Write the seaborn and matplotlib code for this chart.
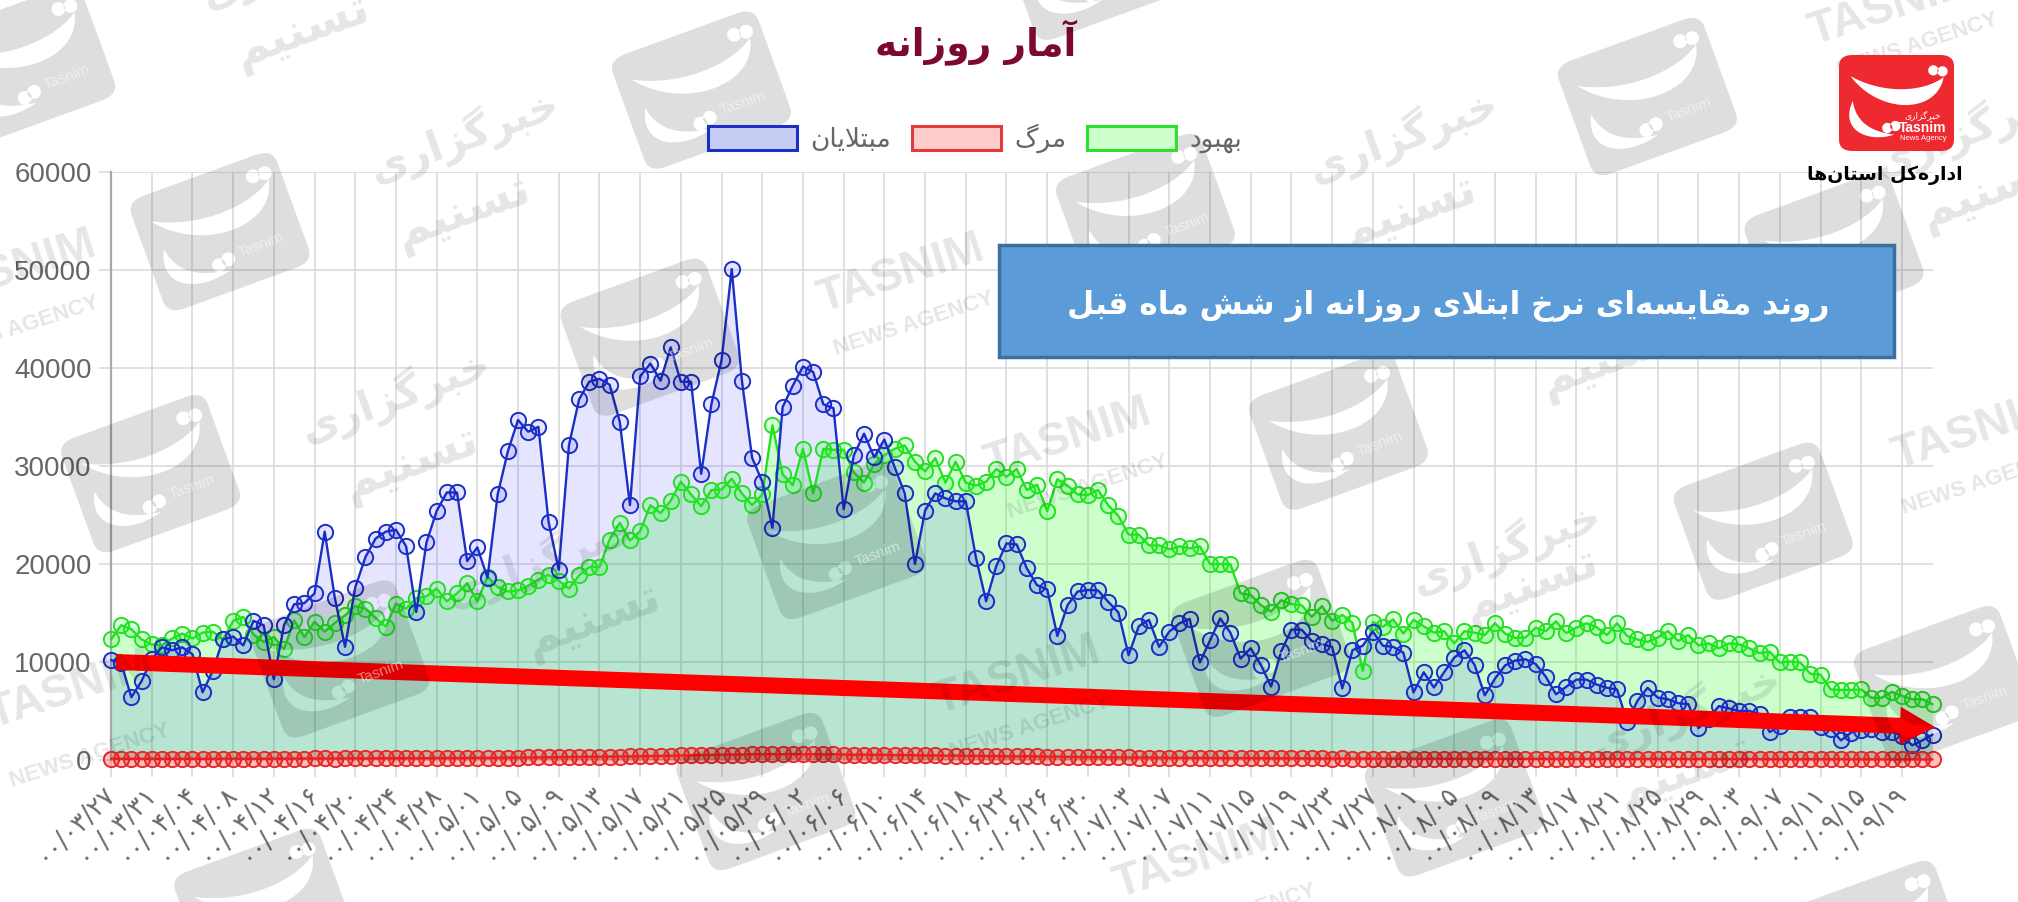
# %%
import numpy as np
import pandas as pd
import seaborn as sns
import matplotlib.pyplot as plt
import matplotlib.patches as mpatches
from matplotlib.path import Path
from matplotlib.transforms import Affine2D, IdentityTransform

# %%
tick_dates = [
    '00/03/27', '00/03/31', '00/04/04', '00/04/08', '00/04/12', '00/04/16', '00/04/20', '00/04/24', '00/04/28',
    '00/05/01', '00/05/05', '00/05/09', '00/05/13', '00/05/17', '00/05/21', '00/05/25', '00/05/29',
    '00/06/02', '00/06/06', '00/06/10', '00/06/14', '00/06/18', '00/06/22', '00/06/26', '00/06/30',
    '00/07/03', '00/07/07', '00/07/11', '00/07/15', '00/07/19', '00/07/23', '00/07/27',
    '00/08/01', '00/08/05', '00/08/09', '00/08/13', '00/08/17', '00/08/21', '00/08/25', '00/08/29',
    '00/09/03', '00/09/07', '00/09/11', '00/09/15', '00/09/19',
]
infected = [
    10200, 9900, 6400, 8050, 10300, 11500, 11200, 11500, 10800, 6900,
    9100, 12300, 12600, 11700, 14200, 13750, 8250, 13750, 15900, 16000,
    17000, 23300, 16500, 11550, 17600, 20700, 22600, 23300, 23500, 21800,
    15100, 22200, 25400, 27300, 27300, 20300, 21700, 18600, 27100, 31500,
    34700, 33500, 34000, 24300, 19400, 32100, 36800, 38600, 38900, 38300,
    34500, 26000, 39150, 40450, 38700, 42100, 38600, 38600, 29200, 36300,
    40800, 50100, 38700, 30850, 28400, 23700, 36000, 38200, 40150, 39600,
    36300, 35900, 25600, 31100, 33300, 30900, 32700, 29900, 27200, 20000,
    25450, 27200, 26700, 26400, 26400, 20650, 16200, 19800, 22100, 22000,
    19550, 17850, 17400, 12650, 15800, 17200, 17350, 17300, 16150, 15050,
    10700, 13650, 14300, 11550, 13100, 13950, 14400, 9950, 12200, 14450,
    13000, 10350, 11400, 9700, 7500, 11100, 13300, 13300, 12150, 11800,
    11550, 7300, 11200, 11650, 13100, 11650, 11550, 10950, 6900, 8950,
    7400, 8950, 10450, 11200, 9700, 6600, 8300, 9650, 10150, 10280,
    9800, 8500, 6700, 7470, 8200, 8200, 7700, 7370, 7200, 3850,
    6030, 7370, 6370, 6200, 5800, 5700, 3250, 4200, 5500, 5260,
    5000, 5000, 4700, 2850, 3500, 4400, 4400, 4400, 3350, 3200,
    2000, 2800, 3100, 3200, 2900, 2850, 2500, 1500, 2000, 2600,
]
recovered = [
    12300, 13750, 13350, 12300, 11800, 11700, 12400, 12900, 12400, 13000,
    13100, 12300, 14200, 14600, 12800, 12050, 12550, 11300, 14250, 12550,
    14100, 13100, 14000, 14750, 15700, 15450, 14500, 13600, 15950, 15450,
    16500, 16700, 17500, 16200, 17000, 18050, 16200, 18700, 17650, 17200,
    17300, 17800, 18400, 18900, 18300, 17500, 18850, 19700, 19700, 22500,
    24200, 22400, 23350, 26000, 25200, 26450, 28400, 27100, 25900, 27550,
    27600, 28700, 27200, 26000, 27100, 34150, 29150, 28050, 31750, 27200,
    31750, 31650, 31650, 29350, 28300, 30200, 31100, 31750, 32100, 30450,
    29450, 30800, 28300, 30450, 28300, 28000, 28400, 29700, 28900, 29700,
    27550, 28100, 25400, 28650, 28000, 27100, 27050, 27550, 26000, 24900,
    23000, 23000, 21900, 21900, 21500, 21800, 21600, 21800, 20000, 20000,
    20000, 17000, 16850, 15800, 15150, 16300, 15900, 15800, 14600, 15700,
    14200, 14800, 14000, 9100, 14100, 13600, 14350, 12900, 14300, 13650,
    13000, 13150, 11900, 13150, 13000, 12750, 13950, 12900, 12450, 12500,
    13500, 13150, 14150, 12950, 13500, 13950, 13550, 12750, 13950, 12650,
    12300, 12050, 12500, 13150, 12150, 12750, 11700, 11900, 11400, 11900,
    11800, 11400, 10900, 11050, 9950, 10050, 9950, 8800, 8700, 7200,
    7150, 7150, 7200, 6350, 6350, 6950, 6550, 6200, 6200, 5700,
]
deaths = [
    130, 125, 120, 125, 130, 120, 125, 135, 130, 120, 125, 130, 135, 125, 130, 140, 135, 140, 150, 145,
    155, 160, 150, 165, 170, 160, 175, 180, 185, 190, 180, 195, 200, 210, 205, 215, 225, 220, 235, 240,
    250, 265, 260, 280, 290, 300, 310, 320, 340, 330, 355, 370, 380, 400, 420, 440, 460, 490, 510, 520,
    530, 560, 550, 590, 580, 600, 590, 610, 580, 600, 570, 590, 560, 540, 550, 520, 530, 500, 510, 480,
    460, 470, 440, 450, 420, 430, 400, 410, 380, 370, 390, 360, 340, 350, 320, 310, 300, 290, 280, 270,
    260, 250, 255, 240, 230, 225, 215, 220, 205, 195, 200, 190, 180, 185, 175, 170, 165, 170, 160, 155,
    150, 155, 145, 150, 140, 145, 135, 140, 130, 125, 135, 130, 120, 125, 130, 120, 115, 125, 120, 115,
    120, 115, 110, 120, 115, 110, 105, 115, 110, 100, 105, 110, 100, 95, 105, 100, 95, 100, 90, 95,
    95, 90, 85, 90, 85, 80, 85, 80, 75, 80, 85, 75, 70, 75, 70, 65, 70, 65, 60, 65,
]
title = 'آمار روزانه'
label_infected, label_deaths, label_recovered = 'مبتلایان', 'مرگ', 'بهبود'
box_text = 'روند مقایسه‌ای نرخ ابتلای روزانه از شش ماه قبل'
logo_caption = 'اداره‌کل استان‌ها'
word_agency, word_tasnim = 'خبرگزاری', 'تسنیم'

# %%
# matplotlib does no arabic shaping, so pick the joined forms and reverse
FORMS = {
    'ا': 'ﺍﺎ', 'آ': 'ﺁﺂ', 'د': 'ﺩﺪ', 'ر': 'ﺭﺮ', 'ز': 'ﺯﺰ', 'و': 'ﻭﻮ',
    'ب': 'ﺏﺐﺑﺒ', 'ت': 'ﺕﺖﺗﺘ', 'خ': 'ﺥﺦﺧﺨ', 'س': 'ﺱﺲﺳﺴ', 'ش': 'ﺵﺶﺷﺸ',
    'ق': 'ﻕﻖﻗﻘ', 'ک': 'ﮎﮏﮐﮑ', 'گ': 'ﮒﮓﮔﮕ', 'ل': 'ﻝﻞﻟﻠ', 'م': 'ﻡﻢﻣﻤ',
    'ن': 'ﻥﻦﻧﻨ', 'ه': 'ﻩﻪﻫﻬ', 'ی': 'ﯼﯽﯾﯿ',
}

def fa(s):
    s = s.replace('لا', '\ufefb')
    out = []
    for i, c in enumerate(s):
        prev = s[i-1] if i > 0 else ' '
        next_ = s[i+1] if i < len(s)-1 else ' '
        if c == '\ufefb':
            out.append('\ufefc' if prev in FORMS and len(FORMS[prev]) == 4 else c)
        elif c not in FORMS:
            out.append(' ' if c == ' ' else '')
        else:
            joins_prev = prev in FORMS and len(FORMS[prev]) == 4
            joins_next = len(FORMS[c]) == 4 and (next_ in FORMS or next_ == '\ufefb')
            idx = {(False, False): 0, (True, False): 1, (False, True): 2, (True, True): 3}[(joins_prev, joins_next)]
            out.append(FORMS[c][idx])
    return ''.join(out)[::-1]

# %%
W, H = 2018, 902
sns.set_theme(style='white')
plt.rcParams['font.family'] = ['Liberation Sans', 'DejaVu Sans']
px = Affine2D().scale(1, -1).translate(0, H)  # top-down image pixels

fig = plt.figure(figsize=(W/100, H/100), dpi=100, facecolor='white')
ax = fig.add_axes([111/W, (H-760)/H, 1821.5/W, 588/H])

days = np.arange(len(infected))
df = pd.DataFrame({'day': days, 'infected': infected, 'recovered': recovered, 'deaths': deaths})

ax.fill_between(days, 0, df['recovered'], facecolor=(0, 1, 0, .2), lw=0, zorder=2)
ax.fill_between(days, 0, df['infected'], facecolor=(0, 0, 1, .1), lw=0, zorder=2.1)
ax.fill_between(days, 0, df['deaths'], facecolor=(1, 0, 0, .2), lw=0, zorder=2.2)

series = [
    ('recovered', '#24e024', (0, 1, 0, .15), 3),
    ('infected', '#1b2fc4', (0, 0, 1, .1), 3.1),
    ('deaths', '#e42a2a', (1, 0, 0, .25), 3.2),
]
for col, c, face, z in series:
    sns.lineplot(data=df, x='day', y=col, ax=ax, color=c, lw=1.7, marker='o', ms=11, mfc=face, mec=c,
                 mew=1.4, legend=False, errorbar=None, clip_on=False, zorder=z)

ax.set_xlim(0, len(days)-1)
ax.set_ylim(0, 60000)
ax.set_xlabel('')
ax.set_ylabel('')
ax.set_yticks(range(0, 60001, 10000))
ax.set_xticks(days[::4])
ax.set_xticklabels([d.translate(str.maketrans('0123456789', '۰۱۲۳۴۵۶۷۸۹')) for d in tick_dates],
                   rotation=45, ha='right', va='center', rotation_mode='anchor', fontsize=18.5, color='#6a6a6a',
                   family='DejaVu Sans')
ax.set_axisbelow(True)
ax.grid(True, color='#dadada', lw=1.2)
ax.tick_params(axis='x', length=12, width=1.2, color='#dadada', pad=9, bottom=True)
ax.tick_params(axis='y', length=9, width=1.2, color='#dadada', pad=5, left=True, labelsize=20, labelcolor='#666666')
for k in ['top', 'right', 'bottom']:
    ax.spines[k].set_visible(False)
ax.spines['left'].set_color('#a8a8a8')
ax.spines['left'].set_linewidth(1.6)

# %%
handles = [
    mpatches.Patch(facecolor=(.78, .80, .96), edgecolor='#1b2fc4', lw=2.2, label=fa(label_infected)),
    mpatches.Patch(facecolor='#ffcccc', edgecolor='#e03a3a', lw=2.2, label=fa(label_deaths)),
    mpatches.Patch(facecolor='#ccffcc', edgecolor='#2ee02e', lw=2.2, label=fa(label_recovered)),
]
fig.legend(handles=handles, loc='center', bbox_to_anchor=(975/W, 1-138/H), ncol=3, frameon=False,
           handlelength=3.37, handleheight=1.02, handletextpad=.5, columnspacing=.8, labelcolor='#666666',
           prop={'family': 'DejaVu Sans', 'size': 19})

fig.text(976/W, 1-42/H, fa(title), ha='center', va='center', color='#7d0a2c', fontsize=27, fontweight='bold',
         family='DejaVu Sans')

# trend arrow, on top of the chart but under the watermark
fig.add_artist(mpatches.FancyArrow(116, 662, 1819, 65, width=16, head_width=38, head_length=35,
                                   length_includes_head=True, color='#ff0000', lw=0, transform=px, zorder=4))

# %%
def oriented(poly, ccw):
    x, y = poly[:, 0], poly[:, 1]
    area = np.sum(x[:-1]*y[1:] - x[1:]*y[:-1])
    return poly if (area > 0) == ccw else poly[::-1]

def flat(path):
    # to_polygons flattens curves by device size, so do it on a big copy
    return path.transformed(Affine2D().scale(1000)).to_polygons()[0]/1000

def badge_path(w, h):
    # rounded square with the calligraphic mark punched out, in unit-box coordinates centred on 0
    MOVE, C4, CLOSE = Path.MOVETO, Path.CURVE4, Path.CLOSEPOLY
    box = mpatches.FancyBboxPatch((-.5, -.5), 1, 1, boxstyle='round,pad=0,rounding_size=.12').get_path()
    top = Path([(-.40, -.28), (-.15, .12), (.35, .12), (.41, -.27), (.25, -.12), (-.10, -.08), (-.40, -.28), (-.40, -.28)],
               [MOVE, C4, C4, C4, C4, C4, C4, CLOSE])
    low = Path([(-.38, -.02), (-.50, .28), (-.25, .42), (-.02, .33), (-.20, .30), (-.35, .22), (-.38, -.02), (-.38, -.02)],
               [MOVE, C4, C4, C4, C4, C4, C4, CLOSE])
    parts = [Path(oriented(flat(box), True), closed=True)]
    for p in [top, low]:
        parts.append(Path(oriented(flat(p), False), closed=True))
    for dx, dy in [(.32, -.34), (.40, -.33), (-.08, .26), (-.01, .24)]:
        t = np.linspace(0, 2*np.pi, 17)
        dot = np.column_stack([dx+.045*np.cos(t), dy+.045*w/h*np.sin(t)])
        parts.append(Path(oriented(dot, False), closed=True))
    return Path.make_compound_path(*parts)

def badge(cx, cy, w, h, angle, face, z):
    tr = Affine2D().scale(w, h).rotate_deg(angle).translate(cx, cy) + px
    fig.add_artist(mpatches.PathPatch(badge_path(w, h), facecolor=face, lw=0, transform=tr, zorder=z))
    return tr

def full(x):
    return 1.287*x  # shown size to full size

badge_centers = [(20, 50), (171, 180), (117, 368), (264, 512), (205, 705), (505, 262), (545, 70), (650, 420),
                 (595, 615), (980, 496), (890, 165), (1040, 335), (848, -30), (1280, 75), (1425, 195),
                 (1370, 405), (1510, 532), (1130, 620), (1460, 730)]
latin_marks = [(700, 213, 710, 252), (10, 210, 15, 255), (55, 536, 70, 587), (830, 340, 845, 378),
               (790, 525, 800, 565), (1470, 5, 1490, 35), (930, 668, 960, 712), (1535, 335, 1540, 375)]
persian_marks = [(360, 105, 360, 165), (307, 307, 320, 360), (420, 435, 461, 482), (1090, 105, 1095, 165),
                 (1170, 425, 1190, 455), (1250, 225, 1250, 280), (1310, 552, 1310, 600), (230, -30, 235, 25),
                 (1530, 100, 1545, 150)]

mark_grey, badge_grey = (0, 0, 0, .10), (0, 0, 0, .13)
for x, y in badge_centers:
    tr = badge(full(x), full(y), 155, 120, -20, badge_grey, 5)
    tx, ty = tr.transform((.22, .22))
    fig.text(tx, ty, 'Tasnim', transform=IdentityTransform(), rotation=20, ha='center', va='center', fontsize=11,
             color=(1, 1, 1, .5), zorder=5.2)

for x1, y1, x2, y2 in latin_marks:
    fig.text(full(x1)/W, 1-full(y1)/H, 'TASNIM', rotation=18, ha='center', va='center', fontsize=33,
             color=mark_grey, fontweight='bold', zorder=5)
    fig.text(full(x2)/W, 1-full(y2)/H, 'NEWS AGENCY', rotation=18, ha='center', va='center', fontsize=16,
             color=mark_grey, fontweight='bold', zorder=5)
for x1, y1, x2, y2 in persian_marks:
    fig.text(full(x1)/W, 1-full(y1)/H, fa(word_agency), rotation=20, ha='center', va='center', fontsize=30,
             color=mark_grey, fontweight='bold', family='DejaVu Sans', zorder=5)
    fig.text(full(x2)/W, 1-full(y2)/H, fa(word_tasnim), rotation=20, ha='center', va='center', fontsize=34,
             color=mark_grey, fontweight='bold', family='DejaVu Sans', zorder=5)

# %%
# caption box and logo sit above the watermark
fig.add_artist(mpatches.Rectangle((999, 245), 895, 112, facecolor='#5b9bd7', edgecolor='#3f6f9f', lw=2.5,
                                  transform=px, zorder=6))
fig.text(1448/W, 1-306/H, fa(box_text), ha='center', va='center', color='white', fontsize=22.5, fontweight='bold',
         family='DejaVu Sans', zorder=7)

fig.add_artist(mpatches.Rectangle((1841, 57), 111, 92, facecolor='white', lw=0, transform=px, zorder=5.9))
tr = badge(1896.5, 103, 115, 96, 0, '#ee2a30', 6)
fig.text(1923/W, 1-115/H, fa(word_agency), ha='center', va='center', color='white', fontsize=6.5,
         family='DejaVu Sans', zorder=7)
fig.text(1923/W, 1-128/H, 'Tasnim', ha='center', va='center', color='white', fontsize=10, fontweight='bold', zorder=7)
fig.text(1923/W, 1-138/H, 'News Agency', ha='center', va='center', color='white', fontsize=5.5, zorder=7)
fig.text(1885/W, 1-175/H, fa(logo_caption), ha='center', va='center', color='black', fontsize=13.6, fontweight='bold',
         family='DejaVu Sans', zorder=7)

fig.savefig('out.png', dpi=100)
